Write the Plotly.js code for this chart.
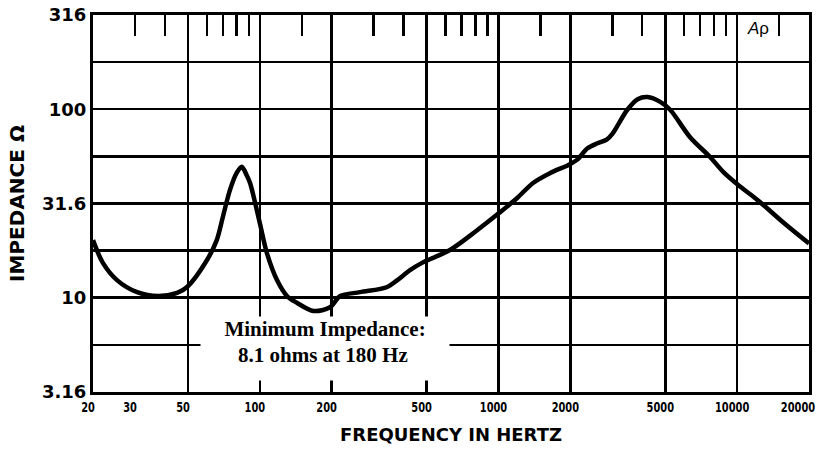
<!DOCTYPE html>
<html>
<head>
<meta charset="utf-8">
<script src="https://cdn.plot.ly/plotly-3.0.1.min.js"></script>
<style>html,body{margin:0;padding:0;background:#fff;}#chart{width:831px;height:452px;}</style>
</head>
<body>
<div id="chart"></div>
<script>
// Impedance curve (Hz, ohms)
const freqHz = [20, 22, 25.2, 30.6, 37.5, 45, 49.6, 60, 66, 70, 75, 80, 84, 88, 91, 100, 107, 118, 130, 143, 168, 197, 217, 263, 342, 377, 426, 478, 626, 814, 1008, 1198, 1396, 1650, 1964, 2140, 2360, 2600, 2840, 3000, 3460, 3830, 4210, 4780, 5250, 6350, 7700, 8740, 10100, 12160, 15700, 20000];
const impedanceOhm = [20.2, 15.3, 12.4, 10.7, 10.2, 10.6, 11.4, 15.8, 20.2, 26.8, 37.3, 45.9, 49.5, 44.8, 40.6, 24.9, 17.3, 12.4, 10.2, 9.4, 8.5, 8.9, 10.2, 10.7, 11.4, 12.4, 14.0, 15.3, 17.9, 22.8, 28.2, 33.8, 40.6, 45.9, 50.6, 54, 62, 66, 69, 74, 99, 113, 116, 109, 99, 71, 55.8, 46.5, 39.6, 33, 24.9, 19.4];

// Axis labels and grid positions
const xTickVals = [20, 30, 50, 100, 200, 500, 1000, 2000, 5000, 10000, 20000];
const xTickText = ['20', '30', '50', '100', '200', '500', '1000', '2000', '5000', '10000', '20000'];
const xGridVals = [50, 100, 200, 500, 1000, 2000, 5000, 10000];
const xTopTicks = [30, 40, 60, 70, 80, 90, 150, 300, 400, 600, 700, 800, 900, 1500, 3000, 4000, 6000, 7000, 8000, 9000, 15000];
const yTickVals = [3.16, 5.62, 10, 17.8, 31.6, 56.2, 100, 178, 316];
const yTickText = ['3.16', '', '10', '', '31.6', '', '100', '', '316'];

const xRange = [Math.log10(20), Math.log10(20000)];
const yRange = [Math.log10(3.16), Math.log10(316)];

const traces = [
  {
    x: freqHz, y: impedanceOhm, type: 'scatter', mode: 'lines',
    line: {color: '#000', width: 4.5, shape: 'spline', smoothing: 0.9},
    hoverinfo: 'skip', showlegend: false
  },
  {
    x: freqHz, y: impedanceOhm, type: 'scatter', mode: 'lines',
    xaxis: 'x2', yaxis: 'y', opacity: 0,
    line: {color: '#000', width: 0}, hoverinfo: 'skip', showlegend: false
  }
];

const serif = {family: 'Liberation Serif, Times New Roman, serif', size: 21, weight: 'bold', color: '#000'};

const layout = {
  width: 831, height: 452,
  margin: {l: 93, r: 22, t: 15, b: 60},
  paper_bgcolor: '#fff', plot_bgcolor: '#fff',
  showlegend: false,
  xaxis: {
    type: 'log', range: xRange, autorange: false,
    tickmode: 'array', tickvals: xTickVals, ticktext: xTickText,
    ticks: '', showgrid: false, zeroline: false,
    showline: true, linecolor: '#000', linewidth: 3, mirror: true,
    tickfont: {family: 'DejaVu Sans, sans-serif', size: 14.5, weight: 'bold', color: '#000'},
    ticklabelshift: -5, ticklabeloverflow: 'allow',
    minor: {tickmode: 'array', tickvals: xGridVals, showgrid: true, gridcolor: '#000', gridwidth: 2.5, ticks: ''},
    title: {text: 'FREQUENCY IN HERTZ', standoff: 14,
      font: {family: 'DejaVu Sans, sans-serif', size: 18, weight: 'bold', color: '#000'}}
  },
  xaxis2: {
    type: 'log', range: xRange, autorange: false,
    overlaying: 'x', anchor: 'y', side: 'top',
    tickmode: 'array', tickvals: xTopTicks,
    ticks: 'inside', ticklen: 21, tickwidth: 2.5, tickcolor: '#000',
    showticklabels: false, showgrid: false, showline: false, zeroline: false
  },
  yaxis: {
    type: 'log', range: yRange, autorange: false,
    tickmode: 'array', tickvals: yTickVals, ticktext: yTickText,
    ticks: '', showgrid: true, gridcolor: '#000', gridwidth: 2.5, zeroline: false,
    showline: true, linecolor: '#000', linewidth: 3, mirror: true,
    tickfont: {family: 'DejaVu Sans, sans-serif', size: 18, weight: 'bold', color: '#000'},
    title: {text: 'IMPEDANCE Ω', standoff: 12,
      font: {family: 'DejaVu Sans, sans-serif', size: 20, weight: 'bold', color: '#000'}}
  },
  annotations: [
    {
      xref: 'paper', yref: 'paper', x: 0.324, y: 0.2016,
      xanchor: 'center', yanchor: 'top', showarrow: false,
      text: 'Minimum Impedance:',
      font: serif,
      bgcolor: '#fff', borderpad: 0, width: 248, height: 63, align: 'center', valign: 'top'
    },
    {
      xref: 'paper', yref: 'paper', x: 0.321, y: 0.098,
      xanchor: 'center', yanchor: 'middle', showarrow: false,
      text: '8.1 ohms at 180 Hz',
      font: serif
    },
    {
      xref: 'paper', yref: 'paper', x: 0.929, y: 0.965,
      xanchor: 'center', yanchor: 'middle', showarrow: false,
      text: '<i>A</i>ρ',
      font: {family: 'Liberation Sans, Arial, sans-serif', size: 17, color: '#000'}
    }
  ]
};

Plotly.newPlot('chart', traces, layout, {staticPlot: true, displayModeBar: false}).then(function () {
  // condense the bottom tick labels like the narrow heavy face of the original
  document.querySelectorAll('.xaxislayer-above .xtick text').forEach(function (t) {
    const w = t.getComputedTextLength();
    t.setAttribute('textLength', (w * 0.68).toFixed(1));
    t.setAttribute('lengthAdjust', 'spacingAndGlyphs');
    if (t.textContent === '20000') t.setAttribute('dx', '-6');
  });
});
</script>
</body>
</html>
